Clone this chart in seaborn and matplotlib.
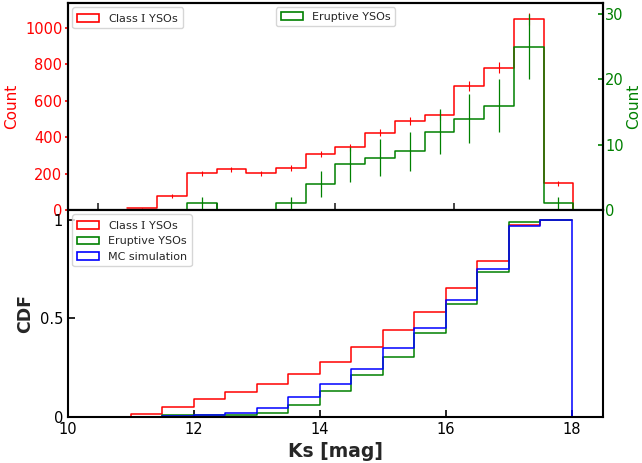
import numpy as np
import pandas as pd
import matplotlib
matplotlib.use("Agg")
import matplotlib.pyplot as plt
from matplotlib.patches import Patch
import seaborn as sns

# ---------------- data ----------------
bin_edges = [10.5, 11.0, 11.5, 12.0, 12.5, 13.0, 13.5, 14.0, 14.5,
             15.0, 15.5, 16.0, 16.5, 17.0, 17.5, 18.0]
class1_counts = [9, 77, 201, 223, 201, 230, 307, 344, 424, 490, 519,
                 680, 781, 1048, 146]
eruptive_counts = [0, 0, 1, 0, 0, 1, 4, 7, 8, 9, 12, 14, 16, 25, 1]
mc_cdf = [0.0, 0.0, 0.003, 0.009, 0.018, 0.048, 0.100, 0.166, 0.246,
          0.348, 0.453, 0.593, 0.753, 0.971, 1.0]
labels = [r"Class $\mathrm{I}$ YSOs", "Eruptive YSOs", "MC simulation"]
x_ticks = [10, 12, 14, 16, 18]
count_ticks_left = [0, 200, 400, 600, 800, 1000]
count_ticks_right = [0, 10, 20, 30]
cdf_ticks = [0, 0.5, 1]
cdf_tick_labels = ["0", "0.5", "1"]

# ---------------- style ----------------
sns.set_style("ticks")
plt.rcParams["font.family"] = ["DejaVu Sans"]
plt.rcParams["mathtext.fontset"] = "dejavuserif"
plt.rcParams["axes.linewidth"] = 1.5

RED, GREEN, BLUE = "#ff0000", "#008000", "#0000ff"
LW = 1.1
TICK_FS = 10.5

edges = [float(e) for e in bin_edges]
centers = [(a + b) / 2 for a, b in zip(edges[:-1], edges[1:])]
edges_closed = edges + [edges[-1] + 0.5]  # empty bin closes the outline

df = pd.DataFrame({"ks": centers,
                   "class1": [float(v) for v in class1_counts],
                   "eruptive": [float(v) for v in eruptive_counts],
                   "mc": [float(v) for v in mc_cdf]})

fig = plt.figure(figsize=(6.42, 4.63), dpi=100)
L, R = 68 / 642, 603 / 642
ax_top = fig.add_axes([L, 1 - 210 / 463, R - L, (210 - 3) / 463])
ax_bot = fig.add_axes([L, 1 - 417 / 463, R - L, (417 - 210) / 463])
ax_tw = ax_top.twinx()

# ---------------- upper panel: histograms ----------------
sns.histplot(data=df, x="ks", weights="class1", bins=edges_closed,
             element="step", fill=False, color=RED, linewidth=LW, ax=ax_top)
ax_top.errorbar(df["ks"], df["class1"], yerr=np.sqrt(df["class1"]),
                fmt="none", ecolor=RED, elinewidth=0.8)

sns.histplot(data=df, x="ks", weights="eruptive", bins=edges_closed,
             element="step", fill=False, color=GREEN, linewidth=LW, ax=ax_tw)
ax_tw.errorbar(df["ks"], df["eruptive"], yerr=np.sqrt(df["eruptive"]),
               fmt="none", ecolor=GREEN, elinewidth=0.9)

ax_top.set_xlim(9.5, 18.5)
ax_top.set_ylim(0, 1135)
ax_tw.set_ylim(0, 31.7)
ax_top.set_xticks(x_ticks)
ax_top.set_yticks(count_ticks_left)
ax_tw.set_yticks(count_ticks_right)
ax_top.tick_params(axis="x", direction="in", length=5, width=1.2,
                   labelbottom=False, top=False)
ax_top.tick_params(axis="y", direction="out", length=2.5, width=1.2,
                   colors=RED, labelsize=TICK_FS, pad=1.5)
ax_tw.tick_params(axis="y", direction="in", length=3.5, width=1.2,
                  colors=GREEN, labelsize=TICK_FS, pad=1.5)
ax_top.set_xlabel("")
ax_top.set_ylabel("Count", color=RED, fontsize=11)
ax_tw.set_ylabel("Count", color=GREEN, fontsize=11, labelpad=2)
for ax in (ax_top, ax_tw):
    for sp in ax.spines.values():
        sp.set_color("black")
        sp.set_linewidth(1.5)

ax_top.legend(handles=[Patch(facecolor="none", edgecolor=RED, linewidth=1.2,
                             label=labels[0])],
              loc="upper left", fontsize=8, borderaxespad=0.4)
ax_tw.legend(handles=[Patch(facecolor="none", edgecolor=GREEN, linewidth=1.2,
                            label=labels[1])],
             loc="upper center", fontsize=8, borderaxespad=0.4)

# ---------------- lower panel: CDFs ----------------
sns.histplot(data=df, x="ks", weights="class1", bins=edges, cumulative=True,
             stat="proportion", element="step", fill=False, color=RED,
             linewidth=LW, ax=ax_bot)
sns.histplot(data=df, x="ks", weights="eruptive", bins=edges, cumulative=True,
             stat="proportion", element="step", fill=False, color=GREEN,
             linewidth=LW, ax=ax_bot)
sns.histplot(data=df, x="ks", weights="mc", bins=edges_closed,
             element="step", fill=False, color=BLUE, linewidth=LW, ax=ax_bot)

ax_bot.set_xlim(10, 18.5)
ax_bot.set_ylim(0, 1.05)
ax_bot.set_xticks(x_ticks)
ax_bot.set_yticks(cdf_ticks)
ax_bot.set_yticklabels(cdf_tick_labels)
ax_bot.tick_params(axis="both", direction="in", length=5, width=1.2,
                   labelsize=TICK_FS, colors="black")
ax_bot.set_xlabel("Ks [mag]", fontsize=13.5, fontweight="bold")
ax_bot.set_ylabel("CDF", fontsize=12.5, fontweight="bold")
for sp in ax_bot.spines.values():
    sp.set_color("black")
    sp.set_linewidth(1.5)

ax_bot.legend(handles=[Patch(facecolor="none", edgecolor=c, linewidth=1.2,
                             label=l) for c, l in zip([RED, GREEN, BLUE], labels)],
              loc="upper left", fontsize=8, borderaxespad=0.4,
              labelspacing=0.5)

fig.savefig("out.png", dpi=100)
